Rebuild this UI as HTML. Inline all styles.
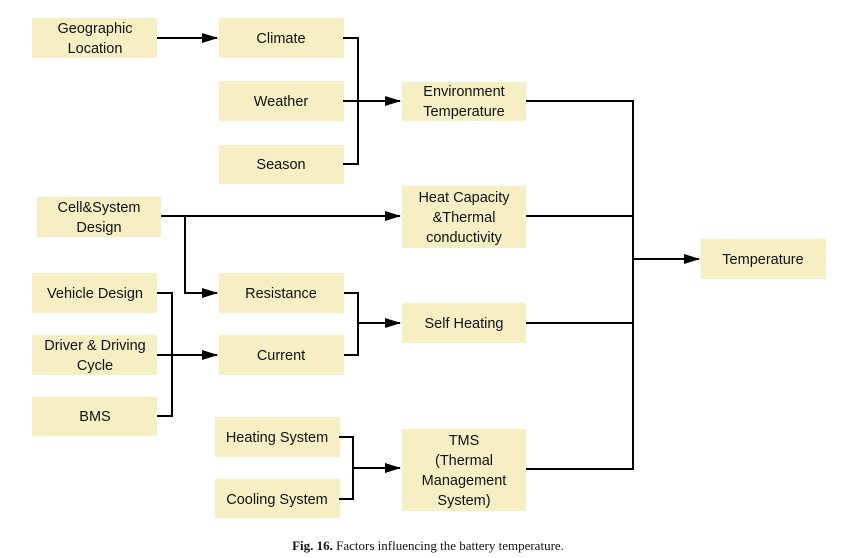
<!DOCTYPE html>
<html><head><meta charset="utf-8"><style>
html,body{margin:0;padding:0;background:#fff;width:843px;height:558px;overflow:hidden}
svg text{font-family:"Liberation Sans",sans-serif;font-size:14.5px;fill:#111;text-anchor:middle}
</style></head><body>
<svg width="843" height="558" viewBox="0 0 843 558" xmlns="http://www.w3.org/2000/svg">
<defs><marker id="a" markerWidth="16" markerHeight="10" refX="15" refY="5" orient="auto" markerUnits="userSpaceOnUse"><path d="M0,0 L16,5 L0,10 Z" fill="#000"/></marker></defs>
<g fill="#f6efc4">
<rect x="32" y="18" width="125" height="40"/>
<rect x="219" y="18" width="125" height="40"/>
<rect x="219" y="81" width="125" height="40"/>
<rect x="219" y="145" width="125" height="39"/>
<rect x="37" y="197" width="124" height="40"/>
<rect x="32" y="273" width="125" height="40"/>
<rect x="32" y="335" width="125" height="40"/>
<rect x="32" y="397" width="125" height="39"/>
<rect x="219" y="273" width="125" height="40"/>
<rect x="219" y="335" width="125" height="40"/>
<rect x="215" y="417" width="125" height="40"/>
<rect x="215" y="479" width="125" height="39"/>
<rect x="402" y="82" width="124" height="39"/>
<rect x="402" y="186" width="124" height="62"/>
<rect x="402" y="303" width="124" height="40"/>
<rect x="402" y="429" width="124" height="82"/>
<rect x="701" y="239" width="125" height="40"/>
</g>
<g stroke="#000" stroke-width="2" fill="none">
<path d="M157,38 H217" marker-end="url(#a)"/>
<path d="M343,38 H358 V164 H343"/>
<path d="M343,101 H400" marker-end="url(#a)"/>
<path d="M161,216 H400" marker-end="url(#a)"/>
<path d="M185,216 V293 H217" marker-end="url(#a)"/>
<path d="M157,293 H172 V416 H157"/>
<path d="M157,355 H217" marker-end="url(#a)"/>
<path d="M344,293 H358 V355 H344"/>
<path d="M358,323 H400" marker-end="url(#a)"/>
<path d="M339,437 H353 V499 H339"/>
<path d="M353,468 H400" marker-end="url(#a)"/>
<path d="M526,101 H633 V469 H526"/>
<path d="M526,216 H633"/>
<path d="M526,323 H633"/>
<path d="M633,259 H699" marker-end="url(#a)"/>
</g>
<text x="95" y="33">Geographic</text><text x="95" y="53">Location</text>
<text x="281" y="43">Climate</text>
<text x="281" y="106">Weather</text>
<text x="281" y="169">Season</text>
<text x="99" y="212">Cell&amp;System</text><text x="99" y="232">Design</text>
<text x="95" y="298">Vehicle Design</text>
<text x="95" y="350">Driver &amp; Driving</text><text x="95" y="370">Cycle</text>
<text x="95" y="421">BMS</text>
<text x="281" y="298">Resistance</text>
<text x="281" y="360">Current</text>
<text x="277" y="442">Heating System</text>
<text x="277" y="504">Cooling System</text>
<text x="464" y="96">Environment</text><text x="464" y="116">Temperature</text>
<text x="464" y="202">Heat Capacity</text><text x="464" y="222">&amp;Thermal</text><text x="464" y="242">conductivity</text>
<text x="464" y="328">Self Heating</text>
<text x="464" y="445">TMS</text><text x="464" y="465">(Thermal</text><text x="464" y="485">Management</text><text x="464" y="505">System)</text>
<text x="763" y="264">Temperature</text>
<text x="428" y="550" style="font-family:'Liberation Serif',serif;font-size:13px"><tspan font-weight="bold">Fig. 16.</tspan> Factors influencing the battery temperature.</text>
</svg>
</body></html>
